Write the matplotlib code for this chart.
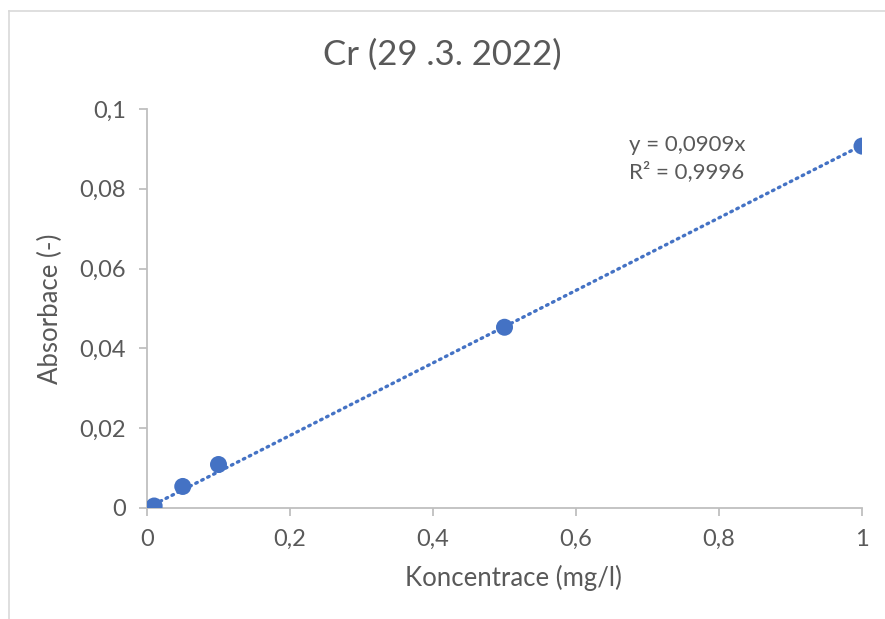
import numpy as np
import matplotlib.pyplot as plt
from matplotlib.lines import Line2D
from matplotlib.ticker import FuncFormatter

plt.rcParams['font.family'] = ['Lato', 'DejaVu Sans']

konc = [0.01, 0.05, 0.1, 0.5, 1.0]
absorb = [0.0005, 0.0054, 0.0109, 0.0453, 0.0907]
slope = 0.0909
r2 = 0.9996
xticks = [0, 0.2, 0.4, 0.6, 0.8, 1]
yticks = [0, 0.02, 0.04, 0.06, 0.08, 0.1]

blue = '#4472C4'
gray = '#595959'
axcol = '#BFBFBF'

fig = plt.figure(figsize=(8.85, 6.19), dpi=100)
ax = fig.add_axes([147/885, 1 - 508/619, (862 - 147)/885, (508 - 109)/619])

# trendline through origin
xt = np.array([konc[0], konc[-1]])
ax.plot(xt, slope * xt, color=blue, lw=2.4, ls=(0, (0.5, 1.5)), dash_capstyle='round', zorder=2)
ax.scatter(konc, absorb, s=150, color=blue, zorder=3, edgecolors='none')

ax.set_xlim(0, 1)
ax.set_ylim(0, 0.1)
ax.set_xticks(xticks)
ax.set_yticks(yticks)
fmt = FuncFormatter(lambda v, p: ('%g' % round(v, 4)).replace('.', ','))
ax.xaxis.set_major_formatter(fmt)
ax.yaxis.set_major_formatter(fmt)

for s in ['top', 'right']:
    ax.spines[s].set_visible(False)
for s in ['left', 'bottom']:
    ax.spines[s].set_color(axcol)
    ax.spines[s].set_linewidth(1.3)
ax.tick_params(colors=axcol, labelcolor=gray, labelsize=17, length=6, width=1.3, direction='out')
ax.tick_params(axis='x', pad=9)
ax.tick_params(axis='y', pad=9)

ax.set_xlabel('Koncentrace (mg/l)', fontsize=18.5, color=gray, va='center')
ax.xaxis.set_label_coords(0.513, -0.175)
ax.set_ylabel('Absorbace (-)', fontsize=18.5, color=gray, labelpad=12)
fig.text(0.5, 1 - 55/619, 'Cr (29 .3. 2022)', ha='center', va='center', fontsize=25, color=gray)

ax.text(0.674, 0.0876, 'y = 0,0909x\nR² = 0,9996', fontsize=16, color=gray,
        va='center', ha='left', linespacing=1.38)

# chart border (only top and left visible)
fig.add_artist(Line2D([9/885, 9/885], [0, 1 - 11/619], transform=fig.transFigure, color='#D9D9D9', lw=1.2))
fig.add_artist(Line2D([9/885, 1], [1 - 11/619, 1 - 11/619], transform=fig.transFigure, color='#D9D9D9', lw=1.2))

fig.savefig('out.png', dpi=100)
